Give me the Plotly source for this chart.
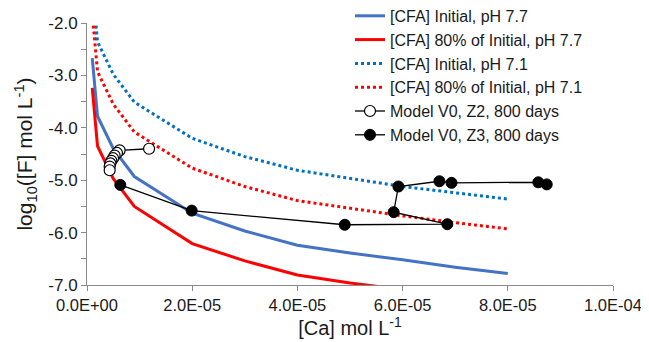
import plotly.graph_objects as go

# Calcium concentrations (mol/L) at which the CFA saturation curves are drawn
CA_CURVE = [1e-6, 2e-6, 5e-6, 9e-6, 2e-5, 3e-5, 4e-5, 5e-5, 6e-5, 7e-5, 8e-5]

# log10([F]) curves
CFA_INIT_77 = [-2.67, -3.78, -4.40, -4.93, -5.63, -5.97, -6.24, -6.39, -6.52, -6.66, -6.78]
CFA_80_77 = [-3.24, -4.35, -4.97, -5.50, -6.21, -6.54, -6.81, -6.96, -7.09, -7.23, -7.35]
CFA_INIT_71 = [-1.25, -2.36, -2.98, -3.51, -4.20, -4.55, -4.81, -4.97, -5.12, -5.24, -5.36]
CFA_80_71 = [-1.82, -2.93, -3.55, -4.08, -4.77, -5.12, -5.39, -5.54, -5.68, -5.81, -5.93]

# Model V0, Z2, 800 days
Z2_CA = [11.8e-6, 6.2e-6, 5.7e-6, 5.25e-6, 4.95e-6, 4.63e-6, 4.44e-6, 4.31e-6, 4.31e-6]
Z2_F = [-4.40, -4.43, -4.48, -4.53, -4.58, -4.63, -4.68, -4.74, -4.81]

# Model V0, Z3, 800 days
Z3_CA = [6.33e-6, 19.9e-6, 49.0e-6, 68.5e-6, 58.3e-6, 59.2e-6, 67.0e-6, 69.3e-6, 85.8e-6, 87.4e-6]
Z3_F = [-5.09, -5.58, -5.85, -5.84, -5.61, -5.12, -5.02, -5.05, -5.04, -5.08]

# Tick labels
X_TICKS = [0, 2e-5, 4e-5, 6e-5, 8e-5, 1e-4]
X_TICK_TEXT = ["0.0E+00", "2.0E-05", "4.0E-05", "6.0E-05", "8.0E-05", "1.0E-04"]
Y_TICKS = [-7, -6, -5, -4, -3, -2]
Y_TICK_TEXT = ["-7.0", "-6.0", "-5.0", "-4.0", "-3.0", "-2.0"]

FONT = "Liberation Sans, Arial, sans-serif"
TXT = "#1a1a1a"
AX = "#8a8a8a"

fig = go.Figure()
fig.add_trace(go.Scatter(x=CA_CURVE, y=CFA_INIT_77, mode="lines",
                         name="[CFA] Initial, pH 7.7",
                         line=dict(color="#4472C4", width=3)))
fig.add_trace(go.Scatter(x=CA_CURVE, y=CFA_80_77, mode="lines",
                         name="[CFA] 80% of Initial, pH 7.7",
                         line=dict(color="#FF0000", width=3)))
fig.add_trace(go.Scatter(x=CA_CURVE, y=CFA_INIT_71, mode="lines",
                         name="[CFA] Initial, pH 7.1",
                         line=dict(color="#0070C0", width=3, dash="dot")))
fig.add_trace(go.Scatter(x=CA_CURVE, y=CFA_80_71, mode="lines",
                         name="[CFA] 80% of Initial, pH 7.1",
                         line=dict(color="#FF0000", width=3, dash="dot")))
fig.add_trace(go.Scatter(x=Z2_CA, y=Z2_F, mode="lines+markers",
                         name="Model V0, Z2, 800 days",
                         line=dict(color="#000000", width=1.3),
                         marker=dict(symbol="circle", size=11, color="#ffffff",
                                     line=dict(color="#000000", width=1.2))))
fig.add_trace(go.Scatter(x=Z3_CA, y=Z3_F, mode="lines+markers",
                         name="Model V0, Z3, 800 days",
                         line=dict(color="#000000", width=1.3),
                         marker=dict(symbol="circle", size=11, color="#000000",
                                     line=dict(color="#000000", width=1))))

# the page body adds an 8px margin, so the figure is 8px smaller than the window
fig.update_layout(
    width=641, height=334,
    margin=dict(l=79, r=36, t=15, b=57, autoexpand=False),
    paper_bgcolor="white", plot_bgcolor="white",
    font=dict(family=FONT, color=TXT, size=16.5),
    showlegend=True,
    legend=dict(x=0.50, xanchor="left", y=0.80, yanchor="middle",
                bgcolor="rgba(0,0,0,0)", font=dict(size=16, family=FONT, color=TXT),
                tracegroupgap=0),
    xaxis=dict(range=[0, 1e-4], tickvals=X_TICKS, ticktext=X_TICK_TEXT,
               showgrid=False, zeroline=False, showline=True, linecolor=AX, linewidth=1,
               ticks="outside", ticklen=5, tickcolor=AX,
               tickfont=dict(size=16.5, family=FONT, color=TXT),
               title=dict(text="[Ca] mol L<sup>-1</sup>", standoff=5,
                          font=dict(size=20, family=FONT, color=TXT))),
    yaxis=dict(range=[-7, -2], tickvals=Y_TICKS, ticktext=Y_TICK_TEXT,
               showgrid=False, zeroline=False, showline=True, linecolor=AX, linewidth=1,
               ticks="outside", ticklen=5, tickcolor=AX,
               minor=dict(ticks="outside", dtick=0.5, ticklen=5, tickcolor=AX, showgrid=False),
               tickfont=dict(size=17, family=FONT, color=TXT),
               title=dict(text="log<sub>10</sub>([F] mol L<sup>-1</sup>)", standoff=9,
                          font=dict(size=21, family=FONT, color=TXT))),
)

fig.write_html("out.html")
